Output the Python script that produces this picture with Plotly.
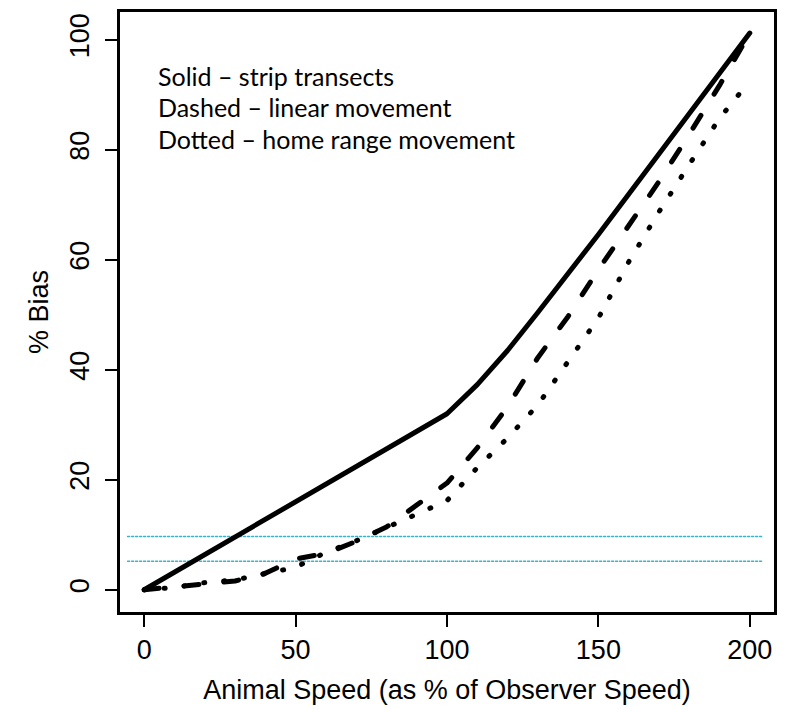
import plotly.graph_objects as go

# ---- data ----
speed = [0, 10, 20, 30, 40, 50, 60, 70, 80, 90, 100,
         110, 120, 130, 140, 150, 160, 170, 180, 190, 200]
bias_strip = [0, 3.2, 6.4, 9.6, 12.8, 16.0, 19.2, 22.4, 25.6, 28.8, 32.0,
              37.3, 43.5, 50.4, 57.4, 64.6, 71.9, 79.3, 86.5, 93.8, 101.2]
bias_linear = [0, 0.5, 1.0, 1.6, 3.0, 5.6, 6.6, 8.8, 11.4, 15.3, 19.4,
               25.8, 33.3, 42.2, 49.7, 58.2, 66.1, 74.2, 82.8, 91.7, 101.2]
bias_home = [0, 0.4, 1.3, 1.8, 2.9, 4.1, 6.8, 8.9, 11.3, 13.7, 16.2,
             22.2, 27.6, 33.6, 41.4, 49.4, 59.6, 68.7, 77.3, 85.7, 92.5]
ref_levels = [9.7, 5.2]
ref_span = [-5.5, 204.2]
x_ticks = [0, 50, 100, 150, 200]
y_ticks = [0, 20, 40, 60, 80, 100]
legend_lines = ["Solid \u2013 strip transects",
                "Dashed \u2013 linear movement",
                "Dotted \u2013 home range movement"]

W, H = 789, 709
ML, MR, MT, MB = 120, 15, 9, 97

fig = go.Figure()

for lvl in ref_levels:
    fig.add_trace(go.Scatter(x=ref_span, y=[lvl, lvl], mode="lines",
                             line=dict(color="#38B4CC", width=1.5, dash="2px,2px"),
                             hoverinfo="skip", showlegend=False))

fig.add_trace(go.Scatter(x=speed, y=bias_home, mode="lines",
                         line=dict(color="black", width=5, dash="1px,19px"),
                         showlegend=False))
fig.add_trace(go.Scatter(x=speed, y=bias_linear, mode="lines",
                         line=dict(color="black", width=5, dash="15px,25px"),
                         showlegend=False))
fig.add_trace(go.Scatter(x=speed, y=bias_strip, mode="lines",
                         line=dict(color="black", width=5),
                         showlegend=False))

plot_h = H - MT - MB
for i, txt in enumerate(legend_lines):
    py = 73 + i * 31.7
    fig.add_annotation(text=txt, xref="paper", yref="paper",
                       x=(156 - ML) / (W - ML - MR), y=(H - MB - py) / plot_h,
                       xanchor="left", yanchor="middle", showarrow=False,
                       font=dict(family="Lato", size=25, color="black"))

axis_common = dict(showgrid=False, zeroline=False, showline=True, mirror=True,
                   linecolor="black", linewidth=2.5, ticks="outside",
                   ticklen=12, tickwidth=1.5, tickcolor="black",
                   tickfont=dict(family="Liberation Sans", size=27, color="black"))

fig.update_xaxes(range=[-8, 208], tickvals=x_ticks,
                 title=dict(text="Animal Speed (as % of Observer Speed)",
                            font=dict(family="Liberation Sans", size=27, color="black"),
                            standoff=16),
                 **axis_common)
fig.update_yaxes(range=[-4.04, 105.04], tickvals=y_ticks, tickangle=-90,
                 ticklabelstandoff=5,
                 title=dict(text="% Bias",
                            font=dict(family="Liberation Sans", size=27, color="black"),
                            standoff=10),
                 **axis_common)

fig.update_layout(width=W, height=H, margin=dict(l=ML, r=MR, t=MT, b=MB),
                  paper_bgcolor="white", plot_bgcolor="white")

fig.write_html("out.html",
               post_script="var s=document.createElement('style');"
                           "s.textContent='.scatterlayer .js-line{stroke-linecap:round;stroke-linejoin:round}';"
                           "document.head.appendChild(s);")
